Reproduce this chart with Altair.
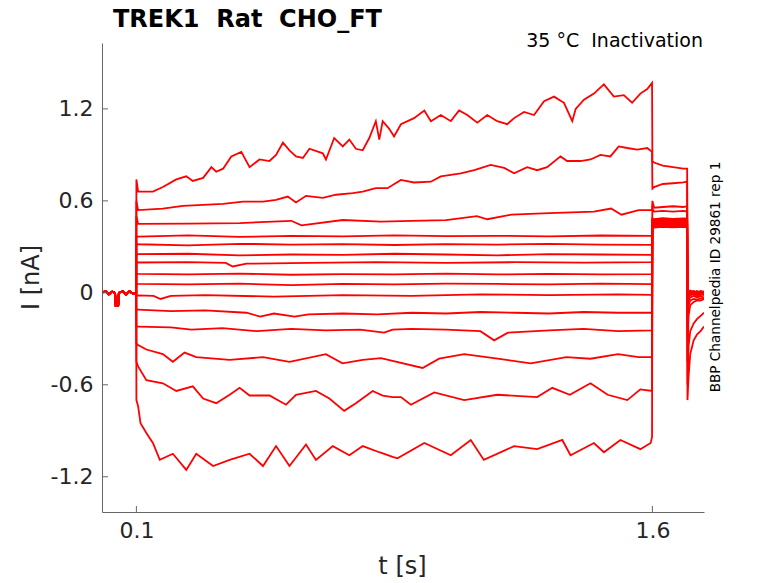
import altair as alt
import pandas as pd

# ---------------- data ----------------
TITLE = "TREK1 \u00a0Rat \u00a0CHO_FT"
SUBTITLE = "35 °C \u00a0Inactivation"
SIDE_NOTE = "BBP Channelpedia ID 29861 rep 1"
X_TICKS = [0.1, 1.6]
Y_TICKS = [-1.2, -0.6, 0.0, 0.6, 1.2]

# holding period (shared by all sweeps)
BASE_T = [0.0, 0.01, 0.02, 0.03, 0.038, 0.040, 0.047, 0.049, 0.06, 0.07, 0.08, 0.09, 0.0995]
BASE_V = [0.0, 0.012, -0.01, 0.008, 0.0, -0.085, -0.085, 0.0, 0.012, -0.012, 0.01, -0.006, 0.0]

# after-pulse periods
TAIL_T = [1.6, 1.605, 1.63, 1.66, 1.69, 1.701]
END_T = [1.702, 1.705, 1.71, 1.72, 1.73, 1.74, 1.75]

# sweep 1 (top)
TR1_T = [0.100, 0.105, 0.148, 0.177, 0.216, 0.245, 0.264, 0.294, 0.318, 0.332, 0.352, 0.376,
         0.405, 0.429, 0.458, 0.487, 0.506, 0.526, 0.545, 0.564, 0.584, 0.603, 0.642, 0.651,
         0.675, 0.700, 0.719, 0.738, 0.758, 0.777, 0.796, 0.806, 0.816, 0.835, 0.849, 0.869,
         0.907, 0.937, 0.956, 0.985, 1.014, 1.038, 1.062, 1.091, 1.120, 1.149, 1.178, 1.198,
         1.227, 1.256, 1.285, 1.314, 1.343, 1.367, 1.377, 1.401, 1.430, 1.459, 1.488, 1.517,
         1.541, 1.565, 1.585, 1.599]
TR1_V = [0.74, 0.66, 0.66, 0.69, 0.74, 0.76, 0.73, 0.75, 0.82, 0.79, 0.81, 0.89,
         0.92, 0.82, 0.87, 0.86, 0.90, 0.98, 0.93, 0.89, 0.88, 0.94, 0.91, 0.87,
         1.01, 0.955, 1.00, 0.94, 0.93, 1.01, 1.12, 1.00, 1.12, 1.07, 1.02, 1.10,
         1.14, 1.19, 1.12, 1.16, 1.12, 1.19, 1.16, 1.11, 1.16, 1.12, 1.10, 1.14,
         1.18, 1.16, 1.25, 1.28, 1.24, 1.12, 1.20, 1.26, 1.30, 1.36, 1.28, 1.29,
         1.24, 1.30, 1.33, 1.37]
TR1_TAIL = [0.86, 0.85, 0.83, 0.82, 0.81, 0.81]
TR1_END = [0.0, 0.01, 0.0, 0.012, -0.005, 0.01, 0.0]

# sweep 2
TR2_T = [0.100, 0.105, 0.177, 0.235, 0.294, 0.352, 0.410, 0.468, 0.506, 0.540, 0.564, 0.593,
         0.642, 0.680, 0.729, 0.758, 0.796, 0.830, 0.869, 0.907, 0.956, 0.985, 1.043, 1.082,
         1.130, 1.169, 1.198, 1.236, 1.265, 1.294, 1.333, 1.352, 1.391, 1.420, 1.449, 1.478,
         1.502, 1.527, 1.556, 1.585, 1.599]
TR2_V = [0.60, 0.54, 0.55, 0.567, 0.574, 0.58, 0.595, 0.595, 0.607, 0.628, 0.59, 0.633,
         0.62, 0.64, 0.65, 0.66, 0.683, 0.683, 0.737, 0.72, 0.725, 0.76, 0.78, 0.80,
         0.835, 0.815, 0.78, 0.82, 0.80, 0.82, 0.89, 0.86, 0.86, 0.87, 0.90, 0.89,
         0.955, 0.945, 0.935, 0.945, 0.92]
TR2_TAIL = [0.68, 0.69, 0.71, 0.715, 0.72, 0.725]
TR2_END = [-0.01, 0.0, 0.015, 0.005, 0.01, 0.0, 0.01]

# sweep 3
TR3_T = [0.100, 0.105, 0.25, 0.40, 0.55, 0.58, 0.70, 0.811, 0.90, 1.00, 1.09, 1.12, 1.19,
         1.30, 1.43, 1.48, 1.51, 1.56, 1.599]
TR3_V = [0.50, 0.45, 0.452, 0.455, 0.47, 0.44, 0.475, 0.465, 0.47, 0.475, 0.50, 0.48, 0.51,
         0.52, 0.53, 0.55, 0.51, 0.54, 0.54]
TR3_TAIL = [0.60, 0.555, 0.56, 0.565, 0.56, 0.565]
TR3_END = [-0.02, 0.005, 0.0, 0.01, 0.0, 0.012, 0.005]

# sweeps 4-10 (nearly flat), common sample times
FLAT_T = [0.100, 0.105, 0.25, 0.40, 0.55, 0.70, 0.85, 1.00, 1.15, 1.30, 1.45, 1.599]
TR4_V = [0.37, 0.367, 0.375, 0.365, 0.372, 0.368, 0.375, 0.37, 0.372, 0.368, 0.374, 0.372]
TR4_TAIL = [0.55, 0.53, 0.535, 0.53, 0.535, 0.53]
TR4_END = [-0.03, 0.0, 0.01, -0.005, 0.005, 0.0, 0.008]
TR5_V = [0.32, 0.317, 0.31, 0.32, 0.315, 0.318, 0.312, 0.318, 0.315, 0.32, 0.315, 0.313]
TR5_TAIL = [0.485, 0.48, 0.488, 0.482, 0.486, 0.484]
TR5_END = [-0.03, -0.01, 0.005, 0.0, 0.01, -0.005, 0.0]
TR6_V = [0.25, 0.252, 0.255, 0.245, 0.25, 0.248, 0.255, 0.25, 0.245, 0.252, 0.25, 0.248]
TR6_TAIL = [0.478, 0.474, 0.48, 0.476, 0.479, 0.477]
TR6_END = [-0.04, -0.01, 0.0, 0.008, -0.005, 0.005, 0.0]
TR7_T = [0.100, 0.105, 0.25, 0.36, 0.38, 0.42, 0.60, 0.80, 1.00, 1.20, 1.40, 1.599]
TR7_V = [0.20, 0.198, 0.20, 0.195, 0.172, 0.19, 0.195, 0.20, 0.195, 0.20, 0.197, 0.20]
TR7_TAIL = [0.472, 0.468, 0.474, 0.47, 0.473, 0.471]
TR7_END = [-0.05, -0.015, 0.0, -0.005, 0.005, 0.0, -0.004]
TR8_V = [0.125, 0.124, 0.12, 0.125, 0.118, 0.122, 0.12, 0.125, 0.12, 0.124, 0.12, 0.122]
TR8_TAIL = [0.466, 0.462, 0.468, 0.464, 0.467, 0.465]
TR8_END = [-0.06, -0.02, -0.005, 0.0, -0.01, 0.0, -0.005]
TR9_V = [0.06, 0.059, 0.055, 0.06, 0.05, 0.058, 0.055, 0.06, 0.058, 0.055, 0.06, 0.057]
TR9_TAIL = [0.46, 0.456, 0.462, 0.458, 0.461, 0.459]
TR9_END = [-0.08, -0.025, -0.01, -0.005, -0.012, -0.004, -0.01]
TR10_T = [0.100, 0.105, 0.15, 0.17, 0.20, 0.30, 0.50, 0.70, 0.90, 1.10, 1.30, 1.50, 1.599]
TR10_V = [-0.02, -0.017, -0.02, -0.04, -0.02, -0.015, -0.025, -0.015, -0.02, -0.01, -0.015, -0.01, -0.013]
TR10_TAIL = [0.455, 0.45, 0.456, 0.452, 0.455, 0.453]
TR10_END = [-0.10, -0.03, -0.015, -0.01, -0.02, -0.01, -0.015]

# sweep 11
TR11_T = [0.100, 0.105, 0.20, 0.30, 0.42, 0.46, 0.50, 0.56, 0.60, 0.70, 0.80, 0.90, 1.00,
          1.10, 1.20, 1.30, 1.40, 1.50, 1.599]
TR11_V = [-0.11, -0.11, -0.12, -0.115, -0.13, -0.155, -0.135, -0.155, -0.14, -0.135, -0.14,
          -0.13, -0.135, -0.125, -0.13, -0.135, -0.125, -0.13, -0.13]
TR11_TAIL = [0.45, 0.445, 0.451, 0.447, 0.45, 0.448]
TR11_END = [-0.20, -0.05, -0.03, -0.02, -0.03, -0.02, -0.03]

# sweep 12
TR12_T = [0.100, 0.105, 0.20, 0.26, 0.35, 0.45, 0.55, 0.65, 0.75, 0.82, 0.845, 0.90, 1.00,
          1.10, 1.14, 1.18, 1.30, 1.40, 1.50, 1.599]
TR12_V = [-0.22, -0.22, -0.225, -0.24, -0.23, -0.25, -0.235, -0.245, -0.24, -0.26, -0.24,
          -0.235, -0.24, -0.25, -0.31, -0.26, -0.245, -0.235, -0.25, -0.245]
TR12_TAIL = [0.445, 0.44, 0.446, 0.442, 0.445, 0.443]
TR12_END = [-0.30, -0.08, -0.05, -0.04, -0.045, -0.035, -0.04]

# sweep 13
TR13_T = [0.100, 0.105, 0.129, 0.177, 0.206, 0.240, 0.274, 0.371, 0.468, 0.545, 0.651, 0.699,
          0.758, 0.811, 0.932, 0.980, 1.053, 1.150, 1.246, 1.350, 1.420, 1.500, 1.560, 1.599]
TR13_V = [-0.33, -0.34, -0.37, -0.40, -0.45, -0.39, -0.42, -0.437, -0.42, -0.45, -0.40, -0.46,
          -0.437, -0.426, -0.49, -0.43, -0.40, -0.43, -0.46, -0.42, -0.43, -0.40, -0.42, -0.42]
TR13_TAIL = [0.44, 0.435, 0.441, 0.437, 0.44, 0.438]
TR13_END = [-0.45, -0.15, -0.08, -0.06, -0.05, -0.05, -0.04]

# sweep 14
TR14_T = [0.100, 0.105, 0.129, 0.177, 0.216, 0.264, 0.294, 0.332, 0.371, 0.400, 0.429, 0.487,
          0.535, 0.564, 0.622, 0.661, 0.704, 0.738, 0.787, 0.816, 0.845, 0.869, 0.898, 0.966,
          1.053, 1.149, 1.265, 1.309, 1.360, 1.420, 1.470, 1.527, 1.565, 1.599]
TR14_V = [-0.45, -0.48, -0.57, -0.59, -0.64, -0.61, -0.69, -0.72, -0.665, -0.62, -0.67, -0.67,
          -0.73, -0.665, -0.64, -0.69, -0.77, -0.72, -0.64, -0.67, -0.68, -0.68, -0.73, -0.65,
          -0.70, -0.665, -0.68, -0.62, -0.665, -0.59, -0.665, -0.70, -0.63, -0.64]
TR14_TAIL = [0.435, 0.43, 0.436, 0.432, 0.435, 0.433]
TR14_END = [-0.60, -0.35, -0.25, -0.20, -0.17, -0.15, -0.13]

# sweep 15 (bottom)
TR15_T = [0.100, 0.105, 0.112, 0.129, 0.148, 0.168, 0.206, 0.245, 0.274, 0.323, 0.371, 0.429,
          0.468, 0.506, 0.545, 0.593, 0.622, 0.671, 0.719, 0.758, 0.806, 0.845, 0.859, 0.937,
          1.014, 1.072, 1.110, 1.198, 1.265, 1.338, 1.362, 1.430, 1.459, 1.507, 1.565, 1.595,
          1.599]
TR15_V = [-0.70, -0.74, -0.85, -0.915, -0.98, -1.09, -1.05, -1.155, -1.05, -1.13, -1.09, -1.05,
          -1.13, -1.00, -1.13, -0.99, -1.09, -1.00, -1.06, -1.00, -1.04, -1.07, -1.08, -0.98,
          -1.06, -0.96, -1.09, -1.00, -1.02, -0.96, -1.06, -0.98, -1.04, -0.96, -1.02, -0.98,
          -0.94]
TR15_TAIL = [0.43, 0.425, 0.431, 0.427, 0.43, 0.428]
TR15_END = [-0.70, -0.55, -0.40, -0.31, -0.27, -0.25, -0.22]

SWEEPS = [
    (TR1_T, TR1_V, TR1_TAIL, TR1_END),
    (TR2_T, TR2_V, TR2_TAIL, TR2_END),
    (TR3_T, TR3_V, TR3_TAIL, TR3_END),
    (FLAT_T, TR4_V, TR4_TAIL, TR4_END),
    (FLAT_T, TR5_V, TR5_TAIL, TR5_END),
    (FLAT_T, TR6_V, TR6_TAIL, TR6_END),
    (TR7_T, TR7_V, TR7_TAIL, TR7_END),
    (FLAT_T, TR8_V, TR8_TAIL, TR8_END),
    (FLAT_T, TR9_V, TR9_TAIL, TR9_END),
    (TR10_T, TR10_V, TR10_TAIL, TR10_END),
    (TR11_T, TR11_V, TR11_TAIL, TR11_END),
    (TR12_T, TR12_V, TR12_TAIL, TR12_END),
    (TR13_T, TR13_V, TR13_TAIL, TR13_END),
    (TR14_T, TR14_V, TR14_TAIL, TR14_END),
    (TR15_T, TR15_V, TR15_TAIL, TR15_END),
]

rows = []
for k, (st, sv, tail, end) in enumerate(SWEEPS):
    ts = list(BASE_T) + list(st) + list(TAIL_T) + list(END_T)
    vs = list(BASE_V) + list(sv) + list(tail) + list(end)
    for i, (t, v) in enumerate(zip(ts, vs)):
        rows.append({"sweep": k, "i": i, "t": t, "I": v})
df = pd.DataFrame(rows)

# ---------------- layout / style ----------------
W, H = 602, 469
RED = "#ff0000"
AX = "#666666"
TXT = "#262626"
FONT = "DejaVu Sans"

xscale = alt.Scale(domain=[0, 1.75], nice=False, zero=False)
yscale = alt.Scale(domain=[-1.43, 1.63], nice=False, zero=False)

X_AXIS = alt.Axis(values=X_TICKS, format=".1f", title="t [s]",
                  grid=False, ticks=False, tickSize=0, labelPadding=8,
                  domainColor=AX, domainWidth=1,
                  labelFont=FONT, labelFontSize=22, labelColor=TXT,
                  titleFont=FONT, titleFontSize=24, titleFontWeight="normal",
                  titleColor=TXT, titleX=300, titleY=54, titleBaseline="middle",
                  titleAlign="center")
Y_AXIS = alt.Axis(values=Y_TICKS, title="I [nA]",
                  labelExpr="datum.value == 0 ? '0' : (datum.value < 0 ? '-' + format(-datum.value, '.1f') : format(datum.value, '.1f'))",
                  grid=False, ticks=False, tickSize=0, labelPadding=9,
                  domainColor=AX, domainWidth=1,
                  labelFont=FONT, labelFontSize=22, labelColor=TXT,
                  titleFont=FONT, titleFontSize=24, titleFontWeight="normal",
                  titleColor=TXT, titleX=-71, titleY=234, titleAngle=270,
                  titleBaseline="middle", titleAlign="center")

lines = alt.Chart(df).mark_line(color=RED, strokeWidth=1.8, clip=True).encode(
    x=alt.X("t:Q", scale=xscale, axis=X_AXIS),
    y=alt.Y("I:Q", scale=yscale, axis=Y_AXIS),
    detail="sweep:N",
    order="i:Q",
)

ytick_df = pd.DataFrame({"I": Y_TICKS})
xtick_df = pd.DataFrame({"t": X_TICKS})
yticks = alt.Chart(ytick_df).mark_rule(color=AX, strokeWidth=1).encode(
    y=alt.Y("I:Q", scale=yscale, axis=Y_AXIS), x=alt.value(0), x2=alt.value(6))
xticks = alt.Chart(xtick_df).mark_rule(color=AX, strokeWidth=1).encode(
    x=alt.X("t:Q", scale=xscale, axis=X_AXIS), y=alt.value(H), y2=alt.value(H - 6))

title_txt = alt.Chart(pd.DataFrame({"s": [TITLE]})).mark_text(
    font=FONT, fontSize=24, fontWeight="bold", color="#000000", align="left",
    baseline="alphabetic").encode(text="s:N", x=alt.value(11), y=alt.value(-16))
sub_txt = alt.Chart(pd.DataFrame({"s": [SUBTITLE]})).mark_text(
    font=FONT, fontSize=19, color="#000000", align="right",
    baseline="alphabetic").encode(text="s:N", x=alt.value(W - 1), y=alt.value(4))
side_txt = alt.Chart(pd.DataFrame({"s": [SIDE_NOTE]})).mark_text(
    font=FONT, fontSize=13.6, color="#000000", align="center", angle=270,
    baseline="middle").encode(text="s:N", x=alt.value(614), y=alt.value(234))

chart = alt.layer(lines, yticks, xticks, title_txt, sub_txt, side_txt).properties(
    width=W, height=H,
    autosize=alt.AutoSizeParams(type="none"),
    padding={"left": 94, "top": 35, "right": 60, "bottom": 66},
    background="white",
).configure_view(stroke=None)

chart.save("out.html", embed_options={"renderer": "svg", "actions": False})
